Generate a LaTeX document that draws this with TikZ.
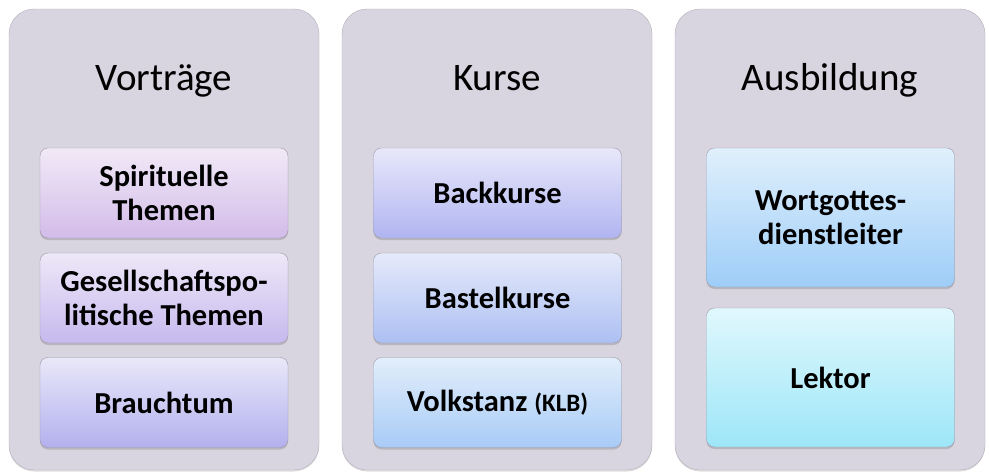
\documentclass[tikz,border=0pt]{standalone}
\usepackage{fontspec}
\setmainfont{Carlito}
\usepackage{tikz}
\usetikzlibrary{shadows,positioning}

\definecolor{panelfill}{HTML}{D8D4E0}
\definecolor{panelline}{HTML}{B2AFBB}
\definecolor{boxline}{HTML}{9C9AA8}

\begin{document}
\begin{tikzpicture}[
			x = 1pt, y = -1pt,
			panel/.style = {draw=panelline, fill=panelfill, rounded corners=25pt,
				minimum width=310pt, minimum height=461pt, inner sep=0pt,
				drop shadow={shadow xshift=0pt, shadow yshift=-1.5pt, opacity=0.25}},
			heading/.style = {font=\fontsize{39}{45}\selectfont, inner sep=0pt, anchor=base},
			item/.style = {draw=boxline, rounded corners=8pt, inner sep=0pt,
				minimum width=248pt, minimum height=90pt, align=center,
				font=\bfseries\fontsize{30.5}{34}\selectfont,
				drop shadow={shadow xshift=0pt, shadow yshift=-2pt, opacity=0.35},
				top color=#1top, bottom color=#1bot},
			tall/.style = {minimum height=139pt}
			]

			\useasboundingbox (0,0) rectangle (989,472);

			\definecolor{aatop}{HTML}{F1E9F7}\definecolor{aabot}{HTML}{D3BCE9}
			\definecolor{abtop}{HTML}{EEE8F8}\definecolor{abbot}{HTML}{C6B9EE}
			\definecolor{actop}{HTML}{E9E8F9}\definecolor{acbot}{HTML}{B3B0EE}
			\definecolor{batop}{HTML}{E8E8FA}\definecolor{babot}{HTML}{B1B5F1}
			\definecolor{bbtop}{HTML}{E5EAFA}\definecolor{bbbot}{HTML}{ADC0F3}
			\definecolor{bctop}{HTML}{E2EEFB}\definecolor{bcbot}{HTML}{A8CBF6}
			\definecolor{catop}{HTML}{E0F0FC}\definecolor{cabot}{HTML}{9ECDF8}
			\definecolor{cbtop}{HTML}{E0F8FD}\definecolor{cbbot}{HTML}{9DE6F8}

			\node[panel] (vortraege) at (164,239.5) {};
			\node[panel] (kurse) at (497,239.5) {};
			\node[panel] (ausbildung) at (830,239.5) {};

			\node[heading] (hv) at (164,90) {Vorträge};
			\node[heading] (hk) at (497,90) {Kurse};
			\node[heading] (ha) at (830,90) {Ausbildung};

			\node[item=aa] (spirit) at (164,193) {Spirituelle\\Themen};
			\node[item=ab] (gesell) at (164,298) {Gesellschaftspo-\\litische Themen};
			\node[item=ac] (brauch) at (164,402.5) {Brauchtum};

			\node[item=ba] (back) at (497.5,193) {Backkurse};
			\node[item=bb] (bastel) at (497.5,298) {Bastelkurse};
			\node[item=bc] (volk) at (497.5,402.5) {Volkstanz {\fontsize{25}{29}\selectfont(KLB)}};

			\node[item=ca,tall] (wort) at (830.5,217.5) {Wortgottes-\\dienstleiter};
			\node[item=cb,tall] (lektor) at (830.5,377.5) {Lektor};

		\end{tikzpicture}
\end{document}
